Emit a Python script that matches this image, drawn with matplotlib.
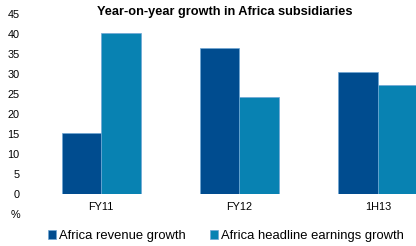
import numpy as np
import matplotlib
matplotlib.use("Agg")
import matplotlib.pyplot as plt

plt.rcParams['font.family'] = ['Liberation Sans', 'DejaVu Sans']

periods = ['FY11', 'FY12', '1H13']
revenue_growth = [15.3, 36.4, 30.6]
earnings_growth = [40.2, 24.2, 27.2]
series_names = ['Africa revenue growth', 'Africa headline earnings growth']
yticks = [0, 5, 10, 15, 20, 25, 30, 35, 40, 45]

dark_blue = '#004C8F'
light_blue = '#0882B2'

fig = plt.figure(figsize=(4.16, 2.46), dpi=100)
# plot area runs past the right edge, as in the original slide crop
ax = fig.add_axes([32 / 416, (246 - 194) / 246, 415 / 416, 180 / 246])

x = np.arange(len(periods))
w = 0.285
ax.bar(x - w / 2, revenue_growth, w, color=dark_blue, edgecolor='#6FA6D4',
       linewidth=0.5, label=series_names[0])
ax.bar(x + w / 2, earnings_growth, w, color=light_blue, edgecolor='#6FA6D4',
       linewidth=0.5, label=series_names[1])

ax.set_xlim(-0.5, 2.5)
ax.set_ylim(0, 45)
ax.set_yticks(yticks)
ax.set_yticklabels([str(t) for t in yticks], fontsize=7.8)
ax.set_xticks(x)
ax.set_xticklabels(periods, fontsize=7.8)
ax.tick_params(axis='both', length=0)
ax.tick_params(axis='y', pad=9)
ax.tick_params(axis='x', pad=6)
for s in ax.spines.values():
    s.set_visible(False)

fig.text(15 / 416, 1 - 215 / 246, '%', fontsize=7.8, ha='center', va='center')
fig.text(225 / 416, 1 - 12 / 246, 'Year-on-year growth in Africa subsidiaries',
         fontsize=9.2, fontweight='bold', ha='center', va='center')

fig.legend(loc='center', bbox_to_anchor=(226 / 416, 1 - 236 / 246), ncol=2,
           frameon=False, fontsize=9.4, handlelength=0.6, handleheight=0.6,
           handletextpad=0.25, columnspacing=1.9, borderpad=0)

fig.savefig('out.png', dpi=100)
